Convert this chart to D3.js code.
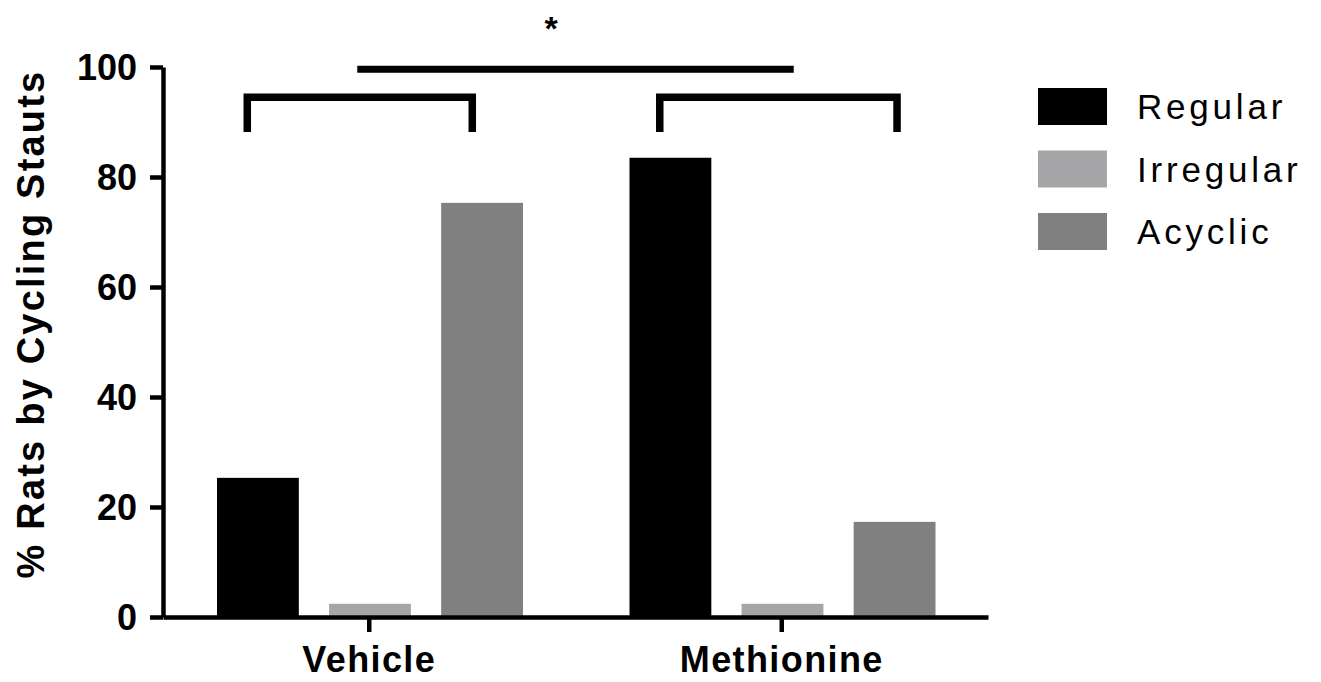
<!DOCTYPE html>
<html>
<head>
<meta charset="utf-8">
<script src="https://cdn.jsdelivr.net/npm/d3@7"></script>
<style>
  html, body { margin: 0; padding: 0; background: #fff; }
  svg { display: block; font-family: "Liberation Sans", Arial, sans-serif; }
</style>
</head>
<body>
<svg id="chart" width="1321" height="682"></svg>
<script>
// Groups, cycling-status series and their percentages
const groups = ["Vehicle", "Methionine"];
const statuses = ["Regular", "Irregular", "Acyclic"];
const regularPct = [25.3, 83.5];
const irregularPct = [2.4, 2.4];
const acyclicPct = [75.3, 17.3];
const yTicks = [0, 20, 40, 60, 80, 100];
const statusColors = ["#000000", "#a6a6a8", "#808080"];

const seriesValues = [regularPct, irregularPct, acyclicPct];
const rows = groups.map((g, gi) => ({
  group: g,
  values: statuses.map((s, si) => ({ status: s, value: seriesValues[si][gi] }))
}));

const svg = d3.select("#chart");

const y = d3.scaleLinear().domain([0, 100]).range([617, 67]);
const x0 = d3.scaleBand().domain(groups).range([163, 988]).paddingInner(0).paddingOuter(0);
const x1 = d3.scaleBand().domain(statuses).range([54, 360]).paddingInner(0.27).paddingOuter(0);
const color = d3.scaleOrdinal().domain(statuses).range(statusColors);

// Bars
const g = svg.append("g");
g.selectAll("g.grp")
  .data(rows)
  .join("g")
  .attr("class", "grp")
  .attr("transform", d => `translate(${x0(d.group)},0)`)
  .selectAll("rect")
  .data(d => d.values)
  .join("rect")
  .attr("x", d => x1(d.status))
  .attr("width", x1.bandwidth())
  .attr("y", d => y(d.value))
  .attr("height", d => y(0) - y(d.value))
  .attr("fill", d => color(d.status));

// Y axis
const yAxis = svg.append("g")
  .attr("transform", "translate(163,0)")
  .call(d3.axisLeft(y).tickValues(yTicks).tickSize(13).tickPadding(13).tickSizeOuter(0));
yAxis.select(".domain").attr("stroke", "#000").attr("stroke-width", 4.5);
yAxis.selectAll(".tick line").attr("stroke", "#000").attr("stroke-width", 4.5);
yAxis.selectAll(".tick text")
  .attr("fill", "#000")
  .style("font-size", "36px")
  .style("font-weight", "bold")
  .attr("dy", "0.36em");

// X axis
const xAxis = svg.append("g")
  .attr("transform", `translate(0,${y(0)})`)
  .call(d3.axisBottom(x0).tickSize(15).tickPadding(12).tickSizeOuter(0));
xAxis.select(".domain").attr("stroke", "#000").attr("stroke-width", 4.5);
xAxis.selectAll(".tick line").attr("stroke", "#000").attr("stroke-width", 4.5);
xAxis.selectAll(".tick text")
  .attr("fill", "#000")
  .attr("dy", "0.78em")
  .style("font-size", "36px")
  .style("font-weight", "bold")
  .style("letter-spacing", "1.4px");

// Y axis title
svg.append("text")
  .attr("transform", `translate(44,${(y(0) + y(100)) / 2 - 18}) rotate(-90)`)
  .attr("text-anchor", "middle")
  .style("font-size", "38px")
  .style("font-weight", "bold")
  .style("letter-spacing", "2.2px")
  .text("% Rats by Cycling Stauts");

// Significance brackets within each group (Regular vs Acyclic)
const bw = x1.bandwidth();
const brTop = y(94.5), brBottom = y(88.2);
const rightOffset = { Vehicle: 0.38, Methionine: 0.53 };
const brackets = groups.map(grp => ({
  x1: x0(grp) + x1("Regular") + bw * 0.37,
  x2: x0(grp) + x1("Acyclic") + bw * rightOffset[grp]
}));
svg.selectAll("path.bracket")
  .data(brackets)
  .join("path")
  .attr("class", "bracket")
  .attr("d", d => `M${d.x1},${brBottom}V${brTop}H${d.x2}V${brBottom}`)
  .attr("fill", "none")
  .attr("stroke", "#000")
  .attr("stroke-width", 7.5)
  .attr("stroke-linejoin", "miter");

// Between-group comparison line and asterisk
const lineX1 = x0("Vehicle") + x0.bandwidth() / 2 - 12;
const lineX2 = x0("Methionine") + x0.bandwidth() / 2 + 12;
svg.append("line")
  .attr("x1", lineX1).attr("x2", lineX2)
  .attr("y1", y(99.6)).attr("y2", y(99.6))
  .attr("stroke", "#000")
  .attr("stroke-width", 7);
svg.append("text")
  .attr("x", 551)
  .attr("y", 40)
  .attr("text-anchor", "middle")
  .style("font-size", "34px")
  .style("font-weight", "bold")
  .text("*");

// Legend
const legend = svg.append("g").attr("transform", "translate(1038,88)");
const item = legend.selectAll("g")
  .data(statuses)
  .join("g")
  .attr("transform", (d, i) => `translate(0,${i * 62.5})`);
item.append("rect")
  .attr("width", 69)
  .attr("height", 37)
  .attr("fill", d => color(d));
item.append("text")
  .attr("x", 99)
  .attr("y", 18.5)
  .attr("dy", "0.36em")
  .style("font-size", "35px")
  .style("letter-spacing", "3.8px")
  .attr("fill", "#000")
  .text(d => d);
</script>
</body>
</html>
